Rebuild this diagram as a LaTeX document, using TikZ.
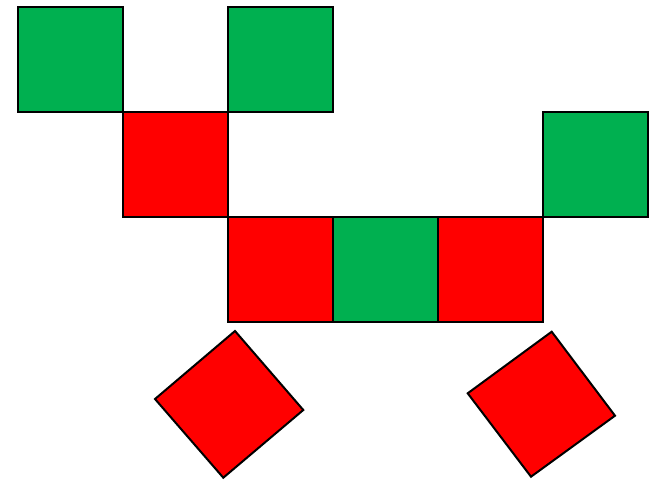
\documentclass[tikz,border=0pt]{standalone}
\begin{document}
\begin{tikzpicture}[x=1pt,y=-1pt,
  gsq/.style={fill=sqgreen,draw=black,line width=2pt,line join=miter},
  rsq/.style={fill=red,draw=black,line width=2pt,line join=miter}]
\definecolor{sqgreen}{RGB}{0,176,80}
\useasboundingbox (0,0) rectangle (654,483);
\draw[gsq] (18,7) rectangle (123,112);
\draw[gsq] (228,7) rectangle (333,112);
\draw[gsq] (543,112) rectangle (648,217);
\draw[rsq] (123,112) rectangle (228,217);
\draw[rsq] (228,217) rectangle (333,322);
\draw[gsq] (333,217) rectangle (438,322);
\draw[rsq] (438,217) rectangle (543,322);
\draw[rsq] (235,331) -- (303.3,410) -- (223.3,477.7) -- (155,399) -- cycle;
\draw[rsq] (551.7,331.7) -- (615,415.7) -- (531,476.7) -- (467.7,393.3) -- cycle;
\end{tikzpicture}
\end{document}
